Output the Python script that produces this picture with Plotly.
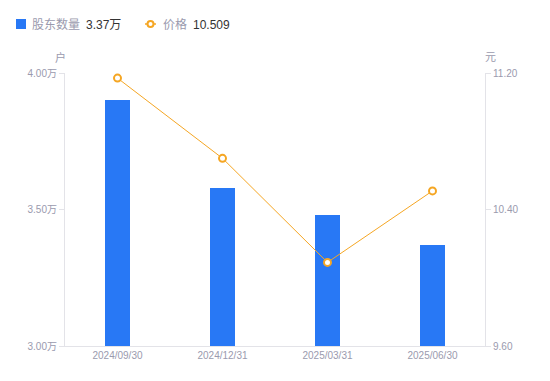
import plotly.graph_objects as go

categories = ["2024/09/30", "2024/12/31", "2025/03/31", "2025/06/30"]
holders_wan = [3.90, 3.58, 3.48, 3.37]
price = [11.17, 10.70, 10.09, 10.509]
left_ticks = [3.00, 3.50, 4.00]
right_ticks = [9.60, 10.40, 11.20]

BLUE = "#2878F5"
ORANGE = "#F5A623"
GRAY = "#9A9AAE"
DARK = "#333333"
AXIS = "#E3E3E8"
FONT = "Liberation Sans, Noto Sans CJK SC, sans-serif"

L, R, T, B = 65, 65, 73, 35
PW = 550 - L - R
PH = 381 - T - B

fig = go.Figure()
fig.add_trace(go.Bar(x=categories, y=holders_wan, marker_color=BLUE, width=0.24,
                     marker_line_width=0, yaxis="y", showlegend=False, hoverinfo="skip"))
fig.add_trace(go.Scatter(x=categories, y=price, mode="lines+markers", yaxis="y2",
                         line=dict(color=ORANGE, width=1),
                         marker=dict(size=7, color="white", line=dict(color=ORANGE, width=2)),
                         showlegend=False, hoverinfo="skip"))

fig.update_layout(
    width=550, height=381,
    margin=dict(l=L, r=R, t=T, b=B, autoexpand=False),
    plot_bgcolor="white", paper_bgcolor="white",
    font=dict(family=FONT, size=10, color=GRAY),
    xaxis=dict(showgrid=False, showline=True, linecolor=AXIS, linewidth=1,
               ticks="", tickfont=dict(size=10, color=GRAY), zeroline=False),
    yaxis=dict(range=[3.0, 4.0], tickvals=left_ticks,
               ticktext=[f"{v:.2f}万" for v in left_ticks],
               showgrid=False, showline=True, linecolor=AXIS, linewidth=1,
               ticks="outside", ticklen=5, tickcolor=AXIS, zeroline=False,
               tickfont=dict(size=10, color=GRAY)),
    yaxis2=dict(range=[9.60, 11.20], tickvals=right_ticks,
                ticktext=[f"{v:.2f}" for v in right_ticks],
                overlaying="y", side="right",
                showgrid=False, showline=True, linecolor=AXIS, linewidth=1,
                ticks="outside", ticklen=5, tickcolor=AXIS, zeroline=False,
                tickfont=dict(size=10, color=GRAY)),
    bargap=0,
)

def px_x(px):
    return (px - L) / PW

def px_y(py):
    return 1 - (py - T) / PH

# axis unit titles
fig.add_annotation(text="户", xref="paper", yref="paper", x=px_x(60), y=px_y(57),
                   showarrow=False, font=dict(size=11, color=GRAY), xanchor="center", yanchor="middle")
fig.add_annotation(text="元", xref="paper", yref="paper", x=px_x(490), y=px_y(57),
                   showarrow=False, font=dict(size=11, color=GRAY), xanchor="center", yanchor="middle")

# custom legend
LY = 24
legend_items = [
    (31, "股东数量", GRAY), (85, f"{holders_wan[-1]:.2f}万", DARK),
    (162, "价格", GRAY), (192, f"{price[-1]:.3f}", DARK),
]
for xx, txt, col in legend_items:
    fig.add_annotation(text=txt, xref="paper", yref="paper", x=px_x(xx), y=px_y(LY + 1),
                       showarrow=False, xanchor="left", yanchor="middle",
                       font=dict(size=12, color=col), xshift=-1)

fig.add_shape(type="rect", xref="paper", yref="paper",
              x0=px_x(16), x1=px_x(26), y0=px_y(29), y1=px_y(19),
              fillcolor=BLUE, line_width=0)
fig.add_shape(type="line", xref="paper", yref="paper",
              x0=px_x(145), x1=px_x(156), y0=px_y(LY), y1=px_y(LY),
              line=dict(color=ORANGE, width=1.5))
fig.add_shape(type="circle", xref="paper", yref="paper",
              x0=px_x(147.5), x1=px_x(153.5), y0=px_y(27), y1=px_y(21),
              fillcolor="white", line=dict(color=ORANGE, width=2))

fig.write_html("out.html", config={"displayModeBar": False},
               post_script="document.body.style.margin='0';")
